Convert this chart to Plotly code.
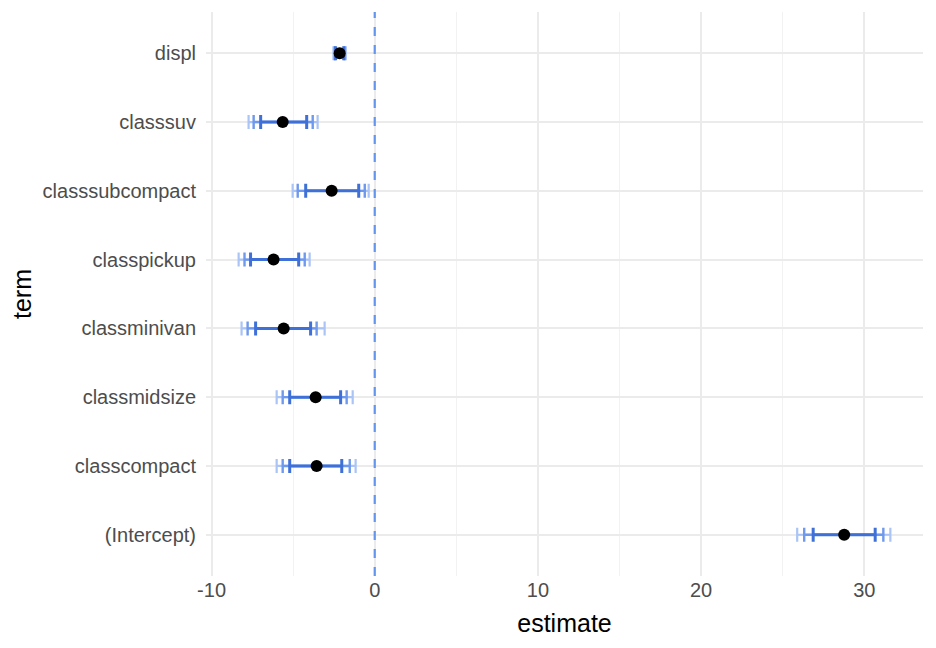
import plotly.graph_objects as go

terms = ["(Intercept)", "classcompact", "classmidsize", "classminivan",
         "classpickup", "classsubcompact", "classsuv", "displ"]
estimate = [28.77, -3.56, -3.62, -5.58, -6.20, -2.64, -5.64, -2.15]
# inner (darkest), middle, outer (lightest) interval bounds
lo_inner = [26.87, -5.21, -5.21, -7.30, -7.61, -4.23, -6.99, -2.40]
hi_inner = [30.67, -2.02, -2.09, -3.93, -4.66, -0.98, -4.17, -1.90]
lo_mid = [26.32, -5.64, -5.64, -7.79, -7.98, -4.72, -7.42, -2.45]
hi_mid = [31.17, -1.53, -1.72, -3.56, -4.29, -0.61, -3.80, -1.85]
lo_outer = [25.89, -6.01, -6.01, -8.16, -8.34, -5.03, -7.73, -2.53]
hi_outer = [31.60, -1.17, -1.35, -3.07, -3.99, -0.37, -3.50, -1.77]
x_ticks = [-10, 0, 10, 20, 30]
x_tick_labels = ["-10", "0", "10", "20", "30"]

fig = go.Figure()

def add_interval(lo, hi, color, thick):
    fig.add_trace(go.Scatter(
        x=estimate, y=terms, mode="markers",
        marker=dict(size=1, color="rgba(0,0,0,0)"),
        error_x=dict(type="data", symmetric=False,
                     array=[h - e for h, e in zip(hi, estimate)],
                     arrayminus=[e - l for e, l in zip(estimate, lo)],
                     color=color, thickness=thick, width=7),
        showlegend=False, hoverinfo="skip"))

add_interval(lo_outer, hi_outer, "#aac4f6", 2.2)
add_interval(lo_mid, hi_mid, "#6f99ec", 2.4)
add_interval(lo_inner, hi_inner, "#3e70d7", 3)

fig.add_trace(go.Scatter(
    x=estimate, y=terms, mode="markers",
    marker=dict(size=12, color="black"),
    showlegend=False))

fig.add_shape(type="line", x0=0, x1=0, xref="x", y0=0, y1=1, yref="paper",
              line=dict(color="#6495ED", width=2.2, dash="dash"), layer="above")

fig.update_layout(
    width=928, height=640,
    margin=dict(l=198, r=13, t=4, b=72, autoexpand=False),
    plot_bgcolor="white", paper_bgcolor="white",
    font=dict(family="Liberation Sans, Arial, sans-serif"),
    xaxis=dict(
        range=[-10.34, 33.6], tickvals=x_ticks, ticktext=x_tick_labels,
        showgrid=True, gridcolor="#ebebeb", gridwidth=1.6,
        minor=dict(tickvals=[-5, 5, 15, 25], showgrid=True,
                   gridcolor="#f2f2f2", gridwidth=0.8),
        zeroline=False, showline=False, ticks="",
        tickfont=dict(size=20, color="#4d4d4d"),
        title=dict(text="estimate", font=dict(size=25, color="black"), standoff=14),
        automargin=False,
    ),
    yaxis=dict(
        type="category", categoryorder="array", categoryarray=terms,
        range=[-0.6, 7.6],
        showgrid=True, gridcolor="#ebebeb", gridwidth=1.6,
        zeroline=False, showline=False, ticks="",
        ticklabelstandoff=9,
        tickfont=dict(size=20, color="#4d4d4d"),
        title=dict(text="term", font=dict(size=25, color="black"), standoff=8),
        automargin=False,
    ),
)

fig.write_html("out.html")
